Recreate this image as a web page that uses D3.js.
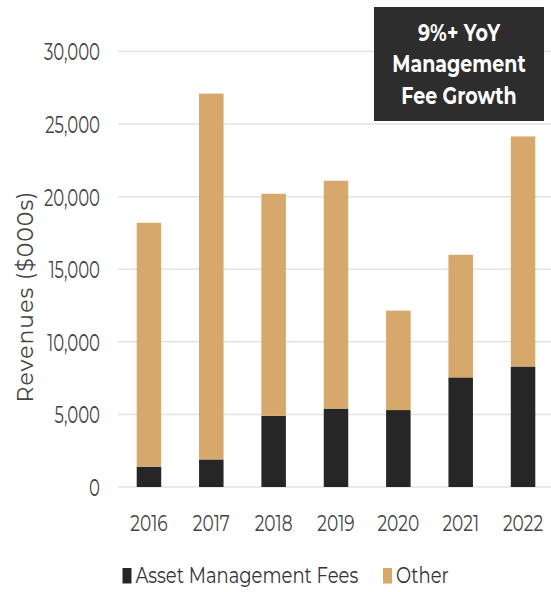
<!DOCTYPE html>
<html>
<head>
<meta charset="utf-8">
<script src="https://cdn.jsdelivr.net/npm/d3@7"></script>
<style>
  html, body { margin: 0; padding: 0; background: #fff; }
  svg { display: block; }
  text { font-family: "Montserrat", "Inter", "Open Sans", sans-serif; }
</style>
</head>
<body>
<svg id="chart" width="551" height="592"></svg>
<script>
// Revenue breakdown by year, in $000s
const years = ["2016", "2017", "2018", "2019", "2020", "2021", "2022"];
const assetManagementFees = [1400, 1900, 4900, 5400, 5300, 7550, 8300];
const other = [16800, 25200, 15300, 15700, 6850, 8450, 15850];
const yTicks = [0, 5000, 10000, 15000, 20000, 25000, 30000];
const seriesNames = ["Asset Management Fees", "Other"];
const seriesColors = ["#262626", "#d6a86c"];
const calloutLines = ["9%+ YoY", "Management", "Fee Growth"];
const yTitle = "Revenues ($000s)";

const svg = d3.select("#chart");
const W = 551, H = 592;
const plot = { left: 118, right: 554, top: 51.5, bottom: 487 };

const x = d3.scaleBand()
  .domain(years)
  .range([plot.left, plot.right])
  .paddingInner(0.607)
  .paddingOuter(0.3);

const y = d3.scaleLinear()
  .domain([0, 30000])
  .range([plot.bottom, plot.top]);

// tall, narrow lettering used for the horizontal labels
const stretchY = 1.42;

// horizontal gridlines
svg.append("g")
  .selectAll("line")
  .data(yTicks)
  .join("line")
  .attr("x1", plot.left)
  .attr("x2", W)
  .attr("y1", d => y(d))
  .attr("y2", d => y(d))
  .attr("stroke", "#e3e3e3")
  .attr("stroke-width", 1.5);

// y axis labels
const yAxis = d3.axisLeft(y)
  .tickValues(yTicks)
  .tickFormat(d3.format(","))
  .tickSize(0)
  .tickPadding(18);

const gy = svg.append("g")
  .attr("transform", `translate(${plot.left},0)`)
  .call(yAxis);
gy.select(".domain").remove();
gy.selectAll("text")
  .attr("font-size", 16.5)
  .attr("fill", "#444")
  .attr("dy", "0.36em")
  .attr("transform", `scale(1,${stretchY})`);

// x axis labels
const xAxis = d3.axisBottom(x).tickSize(0).tickPadding(0);
const gx = svg.append("g")
  .attr("transform", `translate(0,${plot.bottom})`)
  .call(xAxis);
gx.select(".domain").remove();
gx.selectAll("text")
  .attr("font-size", 17)
  .attr("fill", "#444")
  .attr("y", 0)
  .attr("dy", 0)
  .attr("transform", `translate(0,43.5) scale(1,1.32)`);

// stacked bars
const rows = years.map((yr, i) => ({ year: yr, fees: assetManagementFees[i], other: other[i] }));
const stack = d3.stack().keys(["fees", "other"]);
const layers = stack(rows);

svg.append("g")
  .selectAll("g")
  .data(layers)
  .join("g")
  .attr("fill", (d, i) => seriesColors[i])
  .selectAll("rect")
  .data(d => d)
  .join("rect")
  .attr("x", d => x(d.data.year))
  .attr("width", x.bandwidth())
  .attr("y", d => y(d[1]))
  .attr("height", d => y(d[0]) - y(d[1]));

// y axis title
svg.append("text")
  .attr("transform", `translate(33,${(180 + 413) / 2}) rotate(-90)`)
  .attr("text-anchor", "middle")
  .attr("font-size", 22)
  .attr("letter-spacing", 1)
  .attr("fill", "#444")
  .text(yTitle);

// callout box
const callout = svg.append("g");
callout.append("rect")
  .attr("x", 374)
  .attr("y", 7)
  .attr("width", 170)
  .attr("height", 114)
  .attr("fill", "#2d2d2d");
callout.selectAll("text")
  .data(calloutLines)
  .join("text")
  .attr("text-anchor", "middle")
  .attr("font-size", 19)
  .attr("font-weight", 700)
  .attr("fill", "#fff")
  .attr("transform", (d, i) => `translate(459,${40.5 + i * 31.7}) scale(1,1.22)`)
  .text(d => d);

// legend
const legendItems = [
  { name: seriesNames[0], color: seriesColors[0], x: 122.5 },
  { name: seriesNames[1], color: seriesColors[1], x: 383 }
];
const lg = svg.append("g").selectAll("g")
  .data(legendItems)
  .join("g")
  .attr("transform", d => `translate(${d.x},0)`);
lg.append("rect")
  .attr("x", 0)
  .attr("y", 568)
  .attr("width", 9)
  .attr("height", 15.5)
  .attr("fill", d => d.color);
lg.append("text")
  .attr("font-size", 18)
  .attr("fill", "#333")
  .attr("transform", `translate(13,583.3) scale(1,1.25)`)
  .text(d => d.name);
</script>
</body>
</html>
